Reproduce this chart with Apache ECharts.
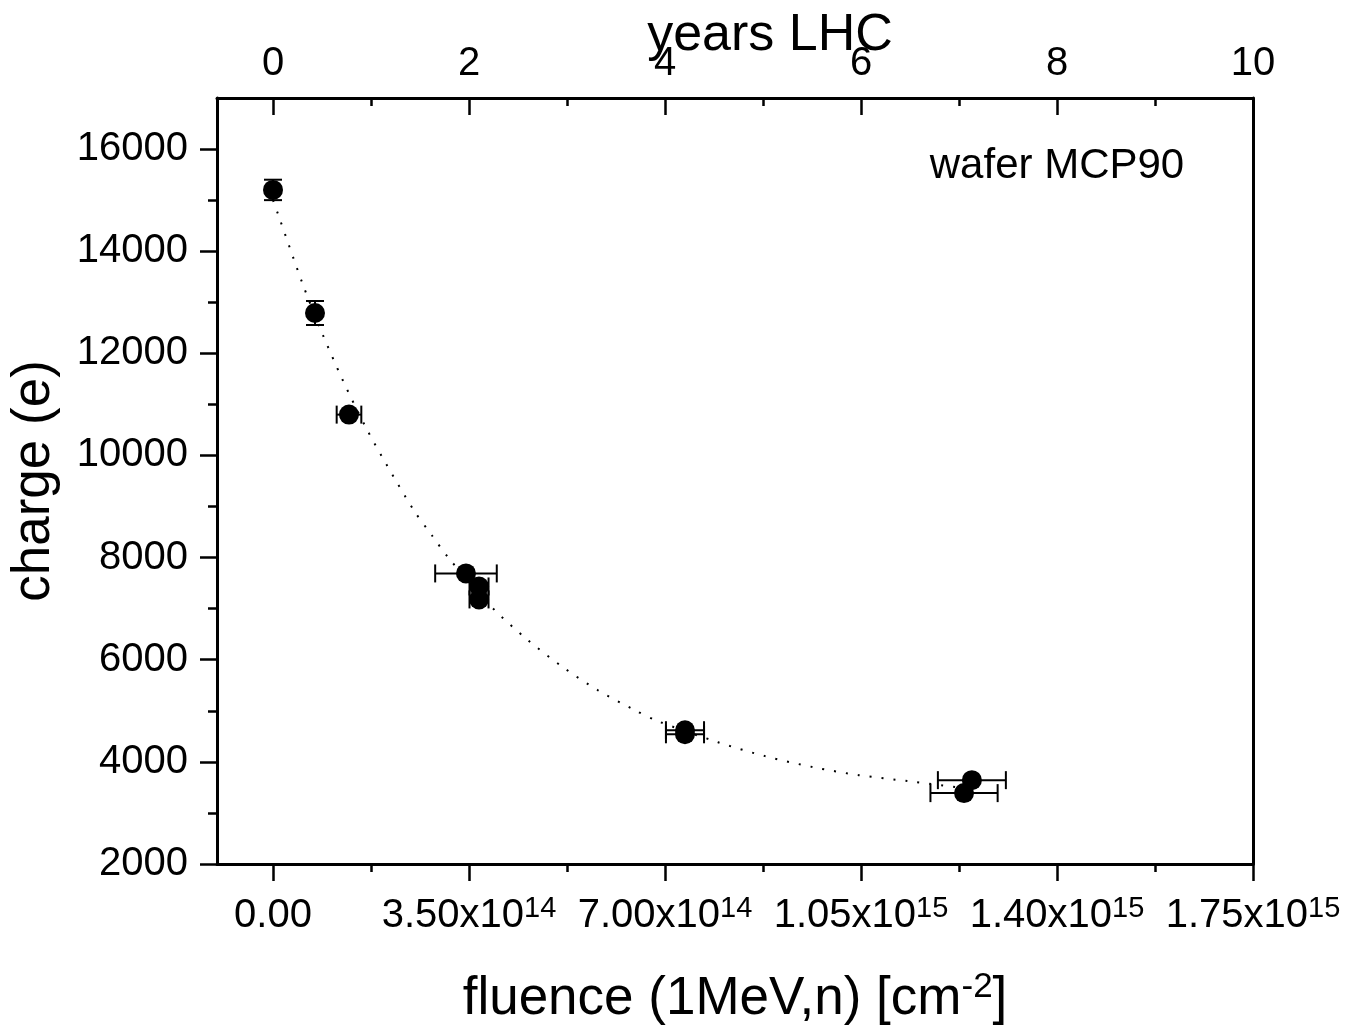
<!DOCTYPE html>
<html>
<head>
<meta charset="utf-8">
<script src="https://cdn.jsdelivr.net/npm/echarts@6/dist/echarts.min.js"></script>
<style>
html,body{margin:0;padding:0;background:#fff;}
#chart{width:1353px;height:1029px;}
</style>
</head>
<body>
<div id="chart"></div>
<script>
// ---- data ----
const fluence    = [0, 0.75e14, 1.357e14, 3.446e14, 3.679e14, 3.679e14, 7.357e14, 7.357e14, 12.48e14, 12.34e14];
const charge     = [15200, 12790, 10800, 7690, 7435, 7181, 4620, 4540, 3642, 3388];
const fluenceErr = [0, 0, 0.22e14, 0.55e14, 0.17e14, 0.17e14, 0.34e14, 0.34e14, 0.607e14, 0.6e14];
const chargeErr  = [200, 235, 0, 0, 0, 0, 0, 0, 0, 0];

const fitFluence = [0, 0.089e14, 0.536e14, 0.875e14, 1.25e14, 1.661e14, 2.018e14, 2.518e14, 2.839e14, 3.143e14,
                    3.893e14, 4.536e14, 5.179e14, 5.804e14, 6.429e14, 6.875e14, 7.946e14, 8.786e14, 9.643e14,
                    10.46e14, 11.34e14, 12.18e14];
const fitCharge  = [15000, 14728, 13340, 12402, 11463, 10544, 9840, 8921, 8433, 7983,
                    7044, 6399, 5852, 5402, 5031, 4796, 4385, 4112, 3897,
                    3740, 3623, 3506];

const fluenceMajorTicks = [0, 3.5e14, 7.0e14, 1.05e15, 1.4e15, 1.75e15];
const fluenceTickLabels = [['0.00', ''], ['3.50x10', '14'], ['7.00x10', '14'], ['1.05x10', '15'], ['1.40x10', '15'], ['1.75x10', '15']];
const fluenceMinorTicks = [1.75e14, 5.25e14, 8.75e14, 1.225e15, 1.575e15];
const yearsMajorTicks = [0, 2, 4, 6, 8, 10];
const yearsMinorTicks = [1, 3, 5, 7, 9];
const chargeMajorTicks = [2000, 4000, 6000, 8000, 10000, 12000, 14000, 16000];
const chargeMinorTicks = [3000, 5000, 7000, 9000, 11000, 13000, 15000];

const FLUENCE_MIN = -1e14, FLUENCE_MAX = 1.75e15;
const FLUENCE_PER_YEAR = 1.75e14;

const FONT = '"Liberation Sans", Arial, sans-serif';
const BLACK = '#000';

const chart = echarts.init(document.getElementById('chart'), null, {renderer: 'canvas'});

const points = fluence.map((f, i) => [f, charge[i], fluenceErr[i], chargeErr[i]]);
const fitLine = fitFluence.map((f, i) => [f, fitCharge[i]]);

function seg(x1, y1, x2, y2) {
  return {type: 'line', shape: {x1, y1, x2, y2}, style: {stroke: BLACK, lineWidth: 2}};
}

const labelMap = {};
fluenceMajorTicks.forEach((v, i) => { labelMap[v] = fluenceTickLabels[i]; });

const option = {
  backgroundColor: '#fff',
  animation: false,
  textStyle: {fontFamily: FONT, color: BLACK},
  grid: {left: 217, right: 100, top: 98, bottom: 165, containLabel: false, outerBoundsMode: 'none'},
  xAxis: [
    { // bottom main
      type: 'value', position: 'bottom', min: FLUENCE_MIN, max: FLUENCE_MAX,
      axisLine: {show: true, onZero: false, lineStyle: {color: BLACK, width: 3}},
      axisTick: {show: true, inside: false, length: 17, customValues: fluenceMajorTicks, lineStyle: {color: BLACK, width: 2.5}},
      axisLabel: {
        show: true, margin: 30, customValues: fluenceMajorTicks,
        formatter: function (v) {
          const l = labelMap[v];
          if (!l) return '';
          return l[1] ? '{b|' + l[0] + '}{s|' + l[1] + '}' : '{b|' + l[0] + '}';
        },
        rich: {
          b: {fontSize: 40, fontFamily: FONT, color: BLACK, lineHeight: 44},
          s: {fontSize: 29, fontFamily: FONT, color: BLACK, verticalAlign: 'top', lineHeight: 30}
        }
      },
      splitLine: {show: false},
      name: '{b|fluence (1MeV,n) [cm}{s|-2}{b|]}',
      nameLocation: 'middle', nameGap: 106,
      nameTextStyle: {
        rich: {
          b: {fontSize: 53, fontFamily: FONT, color: BLACK, lineHeight: 58},
          s: {fontSize: 35, fontFamily: FONT, color: BLACK, verticalAlign: 'top', lineHeight: 38}
        }
      }
    },
    { // top years axis (major)
      type: 'value', position: 'top', min: FLUENCE_MIN / FLUENCE_PER_YEAR, max: FLUENCE_MAX / FLUENCE_PER_YEAR,
      axisLine: {show: true, onZero: false, lineStyle: {color: BLACK, width: 3}},
      axisTick: {show: true, inside: true, length: 17, customValues: yearsMajorTicks, lineStyle: {color: BLACK, width: 2.5}},
      axisLabel: {show: true, margin: 14, customValues: yearsMajorTicks, fontSize: 40, fontFamily: FONT, color: BLACK},
      splitLine: {show: false}
    },
    { // top minor ticks
      type: 'value', position: 'top', min: FLUENCE_MIN / FLUENCE_PER_YEAR, max: FLUENCE_MAX / FLUENCE_PER_YEAR,
      axisLine: {show: false, onZero: false},
      axisTick: {show: true, inside: true, length: 8, customValues: yearsMinorTicks, lineStyle: {color: BLACK, width: 2.5}},
      axisLabel: {show: false},
      splitLine: {show: false}
    },
    { // bottom minor ticks
      type: 'value', position: 'bottom', min: FLUENCE_MIN, max: FLUENCE_MAX,
      axisLine: {show: false, onZero: false},
      axisTick: {show: true, inside: false, length: 8, customValues: fluenceMinorTicks, lineStyle: {color: BLACK, width: 2.5}},
      axisLabel: {show: false},
      splitLine: {show: false}
    }
  ],
  yAxis: [
    {
      type: 'value', position: 'left', min: 2000, max: 17000,
      axisLine: {show: true, onZero: false, lineStyle: {color: BLACK, width: 3}},
      axisTick: {show: true, inside: false, length: 17, customValues: chargeMajorTicks, lineStyle: {color: BLACK, width: 2.5}},
      axisLabel: {show: true, margin: 29, customValues: chargeMajorTicks, fontSize: 40, fontFamily: FONT, color: BLACK,
                  formatter: function (v) { return String(v); }},
      splitLine: {show: false},
      name: 'charge (e)', nameLocation: 'middle', nameGap: 156, nameRotate: 90,
      nameTextStyle: {fontSize: 53, fontFamily: FONT, color: BLACK}
    },
    {
      type: 'value', position: 'left', min: 2000, max: 17000,
      axisLine: {show: false, onZero: false},
      axisTick: {show: true, inside: false, length: 9, customValues: chargeMinorTicks, lineStyle: {color: BLACK, width: 2.5}},
      axisLabel: {show: false},
      splitLine: {show: false}
    },
    {
      type: 'value', position: 'right', min: 2000, max: 17000,
      axisLine: {show: true, onZero: false, lineStyle: {color: BLACK, width: 3}},
      axisTick: {show: false},
      axisLabel: {show: false},
      splitLine: {show: false}
    }
  ],
  graphic: [
    {type: 'text', x: 770, y: 36,
     style: {text: 'years LHC', font: '52px ' + FONT, fill: BLACK, textAlign: 'center', textVerticalAlign: 'middle'}},
    {type: 'text', x: 1057, y: 166,
     style: {text: 'wafer MCP90', font: '42px ' + FONT, fill: BLACK, textAlign: 'center', textVerticalAlign: 'middle'}}
  ],
  series: [
    {
      type: 'line', xAxisIndex: 0, yAxisIndex: 0, data: fitLine,
      showSymbol: false, symbol: 'none', smooth: 0.3,
      lineStyle: {color: BLACK, width: 2, type: [2, 10]},
      z: 1, silent: true
    },
    {
      type: 'custom', xAxisIndex: 0, yAxisIndex: 0, data: points,
      encode: {x: 0, y: 1},
      renderItem: function (params, api) {
        const x = api.value(0), y = api.value(1), ex = api.value(2), ey = api.value(3);
        const c = api.coord([x, y]);
        const children = [];
        const cap = 9;
        if (ex > 0) {
          const l = api.coord([x - ex, y]), r = api.coord([x + ex, y]);
          children.push(seg(l[0], c[1], r[0], c[1]));
          children.push(seg(l[0], c[1] - cap, l[0], c[1] + cap));
          children.push(seg(r[0], c[1] - cap, r[0], c[1] + cap));
        }
        if (ey > 0) {
          const t = api.coord([x, y + ey]), b = api.coord([x, y - ey]);
          children.push(seg(c[0], t[1], c[0], b[1]));
          children.push(seg(c[0] - cap, t[1], c[0] + cap, t[1]));
          children.push(seg(c[0] - cap, b[1], c[0] + cap, b[1]));
        }
        return {type: 'group', children: children};
      },
      z: 2, silent: true
    },
    {
      type: 'scatter', xAxisIndex: 0, yAxisIndex: 0,
      data: points.map(p => [p[0], p[1]]),
      symbol: 'circle', symbolSize: 20,
      itemStyle: {color: BLACK, opacity: 1},
      z: 3, silent: true
    }
  ]
};
chart.setOption(option);
</script>
</body>
</html>
